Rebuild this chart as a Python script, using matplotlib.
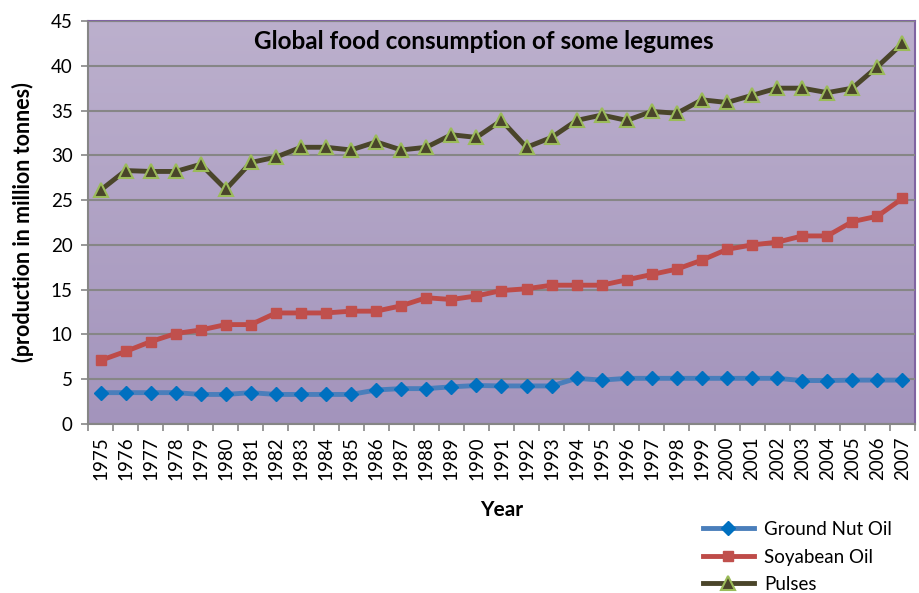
import numpy as np
import matplotlib
matplotlib.use("Agg")
import matplotlib.pyplot as plt
from matplotlib.colors import LinearSegmentedColormap

plt.rcParams['font.family'] = ['Lato', 'DejaVu Sans']

# --- data ---
years = [str(y) for y in range(1975, 2008)]

ground_nut = [3.5, 3.5, 3.5, 3.5, 3.3, 3.3, 3.5, 3.3, 3.3, 3.3, 3.3,
              3.8, 3.95, 3.95, 4.15, 4.3, 4.25, 4.25, 4.25, 5.1, 4.9,
              5.1, 5.1, 5.1, 5.1, 5.1, 5.1, 5.1, 4.85, 4.85, 4.9, 4.9, 4.9]

soyabean = [7.1, 8.1, 9.2, 10.1, 10.5, 11.1, 11.1, 12.4, 12.4, 12.4, 12.6,
            12.6, 13.2, 14.1, 13.9, 14.3, 14.9, 15.1, 15.5, 15.5, 15.5,
            16.1, 16.7, 17.3, 18.3, 19.5, 20.0, 20.3, 21.0, 21.0, 22.6,
            23.2, 25.2]

pulses = [26.1, 28.3, 28.2, 28.2, 29.0, 26.2, 29.2, 29.8, 30.9, 30.9, 30.6,
          31.5, 30.6, 30.9, 32.3, 32.0, 33.9, 30.9, 32.0, 33.9, 34.5,
          33.9, 34.9, 34.7, 36.2, 35.9, 36.7, 37.5, 37.5, 37.0, 37.5,
          39.9, 42.5]

x = np.arange(len(years))

fig = plt.figure(figsize=(9.2, 5.93), dpi=100)
ax = fig.add_axes([88 / 920, 1 - 424 / 593, 827 / 920, 403 / 593])

# fond dégradé de la zone de tracé
cmap = LinearSegmentedColormap.from_list("bg", ["#bcb0cd", "#a394bc"])
grad = np.linspace(0, 1, 256).reshape(-1, 1)
ax.imshow(grad, cmap=cmap, aspect='auto', extent=[-0.5, 32.5, 0, 45],
          origin='upper', zorder=0)

ax.set_xlim(-0.5, 32.5)
ax.set_ylim(0, 45)
ax.set_yticks(range(0, 46, 5))
ax.yaxis.grid(True, color='#868686', linewidth=1.5, zorder=1)
ax.set_axisbelow(False)

ax.plot(x, ground_nut, color='#4a7ebb', linewidth=3.5, marker='D', markersize=7.5,
        markerfacecolor='#0070c0', markeredgecolor='#0070c0', label='Ground Nut Oil', zorder=3)
ax.plot(x, soyabean, color='#be4b48', linewidth=3.5, marker='s', markersize=7,
        markerfacecolor='#c0504d', markeredgecolor='#c0504d', label='Soyabean Oil', zorder=3)
ax.plot(x, pulses, color='#4a452a', linewidth=3.5, marker='^', markersize=10,
        markerfacecolor='#4a452a', markeredgecolor='#9bbb59', markeredgewidth=1.5,
        label='Pulses', zorder=3)

# axe catégoriel : labels au centre, graduations entre catégories
ax.set_xticks(x)
ax.set_xticklabels(years, rotation=90, fontsize=13.5)
ax.set_xticks(np.arange(-0.5, 33, 1), minor=True)
ax.tick_params(axis='x', which='major', length=0, pad=9)
ax.tick_params(axis='x', which='minor', length=5, width=1.2, color='#868686', direction='out')
ax.tick_params(axis='y', length=5, width=1.2, color='#868686', labelsize=13.5, pad=6)

for s in ['left', 'bottom']:
    ax.spines[s].set_color('#868686')
    ax.spines[s].set_linewidth(1.5)
for s in ['top', 'right']:
    ax.spines[s].set_color('#8064a2')
    ax.spines[s].set_linewidth(1.5)

ax.set_xlabel('Year', fontsize=15, fontweight='bold', labelpad=14)
ax.set_ylabel('(production in million tonnes)', fontsize=15.5, fontweight='bold', labelpad=12)

ax.text(0.479, 0.948, 'Global food consumption of some legumes', transform=ax.transAxes,
        ha='center', va='center', fontsize=17.5, fontweight='bold')

fig.legend(loc='upper left', bbox_to_anchor=(703 / 920, 1 - 521 / 593), frameon=False,
           fontsize=13.5, handlelength=2.7, handletextpad=0.55, labelspacing=0.56,
           borderaxespad=0, borderpad=0)

fig.savefig('out.png', dpi=100)
